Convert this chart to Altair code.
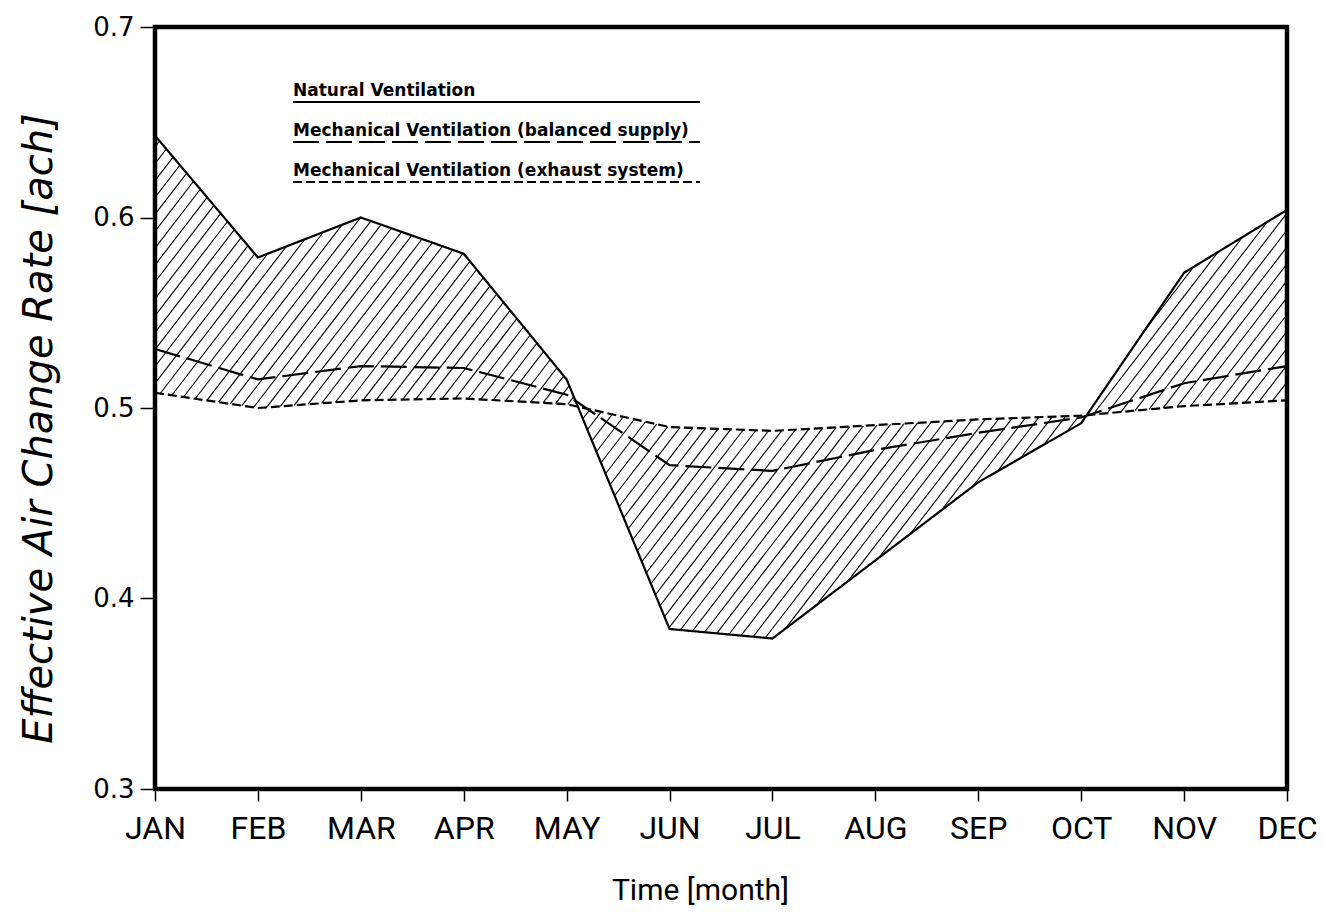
import math
import altair as alt
import pandas as pd

# Monthly effective air change rates [ach]
months = ["JAN", "FEB", "MAR", "APR", "MAY", "JUN", "JUL", "AUG", "SEP", "OCT", "NOV", "DEC"]
natural = [0.643, 0.579, 0.600, 0.581, 0.515, 0.384, 0.379, 0.420, 0.461, 0.492, 0.571, 0.604]
balanced = [0.531, 0.515, 0.522, 0.521, 0.507, 0.470, 0.467, 0.478, 0.487, 0.495, 0.513, 0.522]
exhaust = [0.508, 0.500, 0.504, 0.505, 0.502, 0.490, 0.488, 0.491, 0.494, 0.496, 0.501, 0.504]

series_names = [
    "Natural Ventilation",
    "Mechanical Ventilation (balanced supply)",
    "Mechanical Ventilation (exhaust system)",
]

W, H = 1132, 762
LEFT, TOP = 155, 27
Y_MIN, Y_MAX = 0.3, 0.7
FONT = "Roboto, sans-serif"

# ---- line data (long format)
rows = []
for name, vals in zip(series_names, [natural, balanced, exhaust]):
    for i, v in enumerate(vals):
        rows.append({"month": i, "rate": v, "series": name})
lines_df = pd.DataFrame(rows)

# ---- hatching between natural ventilation and exhaust system curves
px_month = W / (len(months) - 1)
px_value = H / (Y_MAX - Y_MIN)
SLOPE = 1.3      # rise/run of hatch strokes on screen
GAP = 13.0       # horizontal distance between strokes (px)
dc = GAP * SLOPE


def positive_part(g0, g1, x0, x1):
    """Sub-interval of [x0, x1] where a linear function (g0 at x0, g1 at x1) is >= 0."""
    if g0 >= 0 and g1 >= 0:
        return x0, x1
    if g0 < 0 and g1 < 0:
        return None
    xr = x0 + (x1 - x0) * g0 / (g0 - g1)
    return (x0, xr) if g0 >= 0 else (xr, x1)


hatch = []
for i in range(len(months) - 1):
    xa, xb = i * px_month, (i + 1) * px_month
    n0, n1 = (natural[i] - Y_MIN) * px_value, (natural[i + 1] - Y_MIN) * px_value
    e0, e1 = (exhaust[i] - Y_MIN) * px_value, (exhaust[i + 1] - Y_MIN) * px_value
    d0, d1 = n0 - e0, n1 - e1
    cuts = [0.0, 1.0]
    if d0 * d1 < 0:
        cuts = [0.0, d0 / (d0 - d1), 1.0]
    for t0, t1 in zip(cuts[:-1], cuts[1:]):
        X0, X1 = xa + t0 * (xb - xa), xa + t1 * (xb - xa)
        na, nb = n0 + t0 * (n1 - n0), n0 + t1 * (n1 - n0)
        ea, eb = e0 + t0 * (e1 - e0), e0 + t1 * (e1 - e0)
        lo0, hi0 = min(na, ea), max(na, ea)
        lo1, hi1 = min(nb, eb), max(nb, eb)
        c_lo = min(lo0 - SLOPE * X0, lo1 - SLOPE * X1)
        c_hi = max(hi0 - SLOPE * X0, hi1 - SLOPE * X1)
        for k in range(math.floor(c_lo / dc), math.ceil(c_hi / dc) + 1):
            c = k * dc
            h0, h1 = SLOPE * X0 + c, SLOPE * X1 + c
            r1 = positive_part(h0 - lo0, h1 - lo1, X0, X1)
            r2 = positive_part(hi0 - h0, hi1 - h1, X0, X1)
            if r1 is None or r2 is None:
                continue
            s, e = max(r1[0], r2[0]), min(r1[1], r2[1])
            if e - s < 0.3:
                continue
            hatch.append({
                "x": s / px_month, "y": Y_MIN + (SLOPE * s + c) / px_value,
                "x2": e / px_month, "y2": Y_MIN + (SLOPE * e + c) / px_value,
            })
hatch_df = pd.DataFrame(hatch)

x_scale = alt.Scale(domain=[0, len(months) - 1], nice=False, zero=False)
y_scale = alt.Scale(domain=[Y_MIN, Y_MAX], nice=False, zero=False)
month_expr = "[" + ",".join(f"'{m}'" for m in months) + "][datum.value]"

x_axis = alt.Axis(
    title="Time [month]", values=list(range(len(months))), labelExpr=month_expr,
    grid=False, domain=False, tickSize=12, tickWidth=1.5, tickColor="black",
    labelFont=FONT, labelFontSize=32, labelColor="black", labelPadding=12,
    labelFlush=False, labelBound=False, labelOverlap=False,
    titleFont=FONT, titleFontSize=30, titleColor="black", titleFontWeight="normal",
    titleX=545, titleY=110, titleBaseline="alphabetic", titleAnchor="middle", titleAlign="center",
)
y_axis = alt.Axis(
    title="Effective Air Change Rate [ach]", values=[0.3, 0.4, 0.5, 0.6, 0.7], format=".1f",
    grid=False, domain=False, tickSize=15, tickWidth=1.5, tickColor="black",
    labelFont="DejaVu Sans", labelFontSize=26, labelColor="black", labelPadding=6,
    titleFont="DejaVu Sans", titleFontSize=40, titleColor="black", titleFontWeight="normal",
    titleFontStyle="italic", titleX=-104, titleY=401, titleBaseline="alphabetic",
    titleAlign="center", titleAngle=270,
)

hatch_layer = alt.Chart(hatch_df).mark_rule(color="black", strokeWidth=1.1).encode(
    x=alt.X("x:Q", scale=x_scale, axis=x_axis),
    y=alt.Y("y:Q", scale=y_scale, axis=y_axis),
    x2="x2:Q",
    y2="y2:Q",
)

dash_range = [[1, 0], [26, 7], [9, 4]]
line_layer = alt.Chart(lines_df).mark_line(color="black", strokeWidth=2.2).encode(
    x=alt.X("month:Q", scale=x_scale),
    y=alt.Y("rate:Q", scale=y_scale),
    strokeDash=alt.StrokeDash("series:N", scale=alt.Scale(domain=series_names, range=dash_range), legend=None),
    detail="series:N",
)

# ---- key: label text with its line style drawn underneath
key_layers = []
key_x0, key_x1 = 293, 700
for j, (name, dash) in enumerate(zip(series_names, dash_range)):
    base = 96 + 40 * j
    key_layers.append(
        alt.Chart(alt.Data(values=[{}])).mark_text(
            align="left", baseline="alphabetic", font="DejaVu Sans", fontSize=17,
            fontWeight="bold", color="black",
        ).encode(x=alt.value(key_x0 - LEFT), y=alt.value(base - TOP), text=alt.value(name))
    )
    key_layers.append(
        alt.Chart(alt.Data(values=[{}])).mark_rule(color="black", strokeWidth=2.2, strokeDash=dash).encode(
            x=alt.value(key_x0 - LEFT), x2=alt.value(key_x1 - LEFT), y=alt.value(base + 6 - TOP)
        )
    )

chart = alt.layer(hatch_layer, line_layer, *key_layers).properties(
    width=W, height=H,
    autosize=alt.AutoSizeParams(type="none"),
    padding={"left": LEFT, "top": TOP, "right": 1324 - LEFT - W, "bottom": 914 - TOP - H},
    background="white",
).configure_view(stroke="black", strokeWidth=4.5)

chart.save("out.html", embed_options={"renderer": "svg", "actions": False})
